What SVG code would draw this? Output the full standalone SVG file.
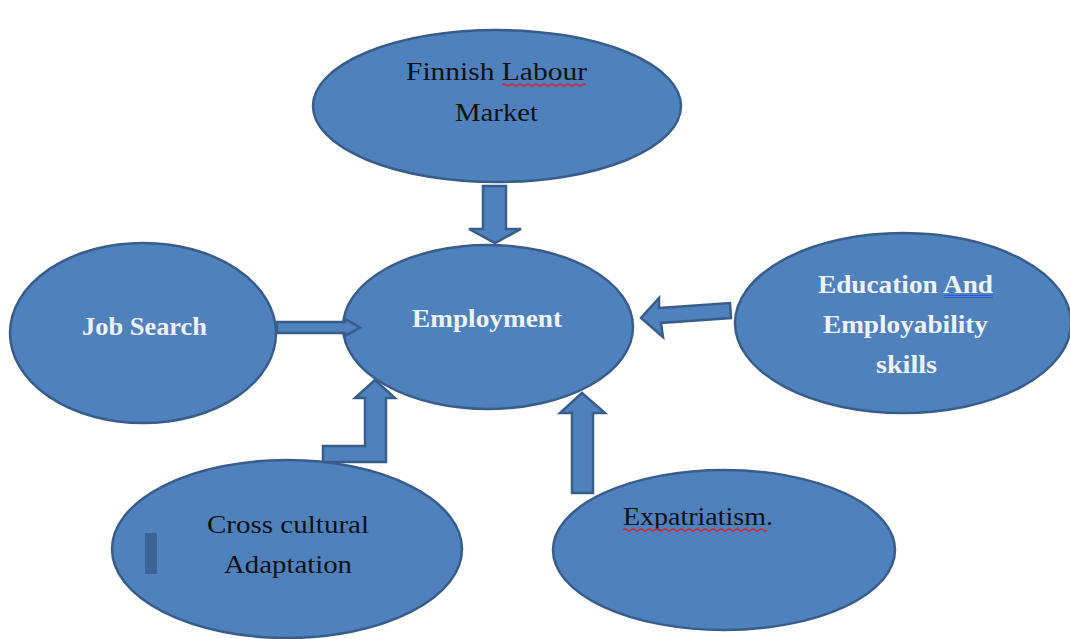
<svg xmlns="http://www.w3.org/2000/svg" width="1070" height="639" viewBox="0 0 1070 639">
<style>
.node{fill:#4f81bd;stroke:#385d8a;stroke-width:2.5}
.arr{fill:#4f81bd;stroke:#385d8a;stroke-width:2.5;stroke-linejoin:miter}
.tb{font-family:"Liberation Serif",serif;font-size:26px;fill:#111;text-anchor:middle}
.tw{font-family:"Liberation Serif",serif;font-size:26px;font-weight:bold;fill:#f2f2f2;text-anchor:middle}
.red{fill:none;stroke:#e02020;stroke-width:1.2}
.blue{fill:none;stroke:#2a5bd7;stroke-width:1.2}
</style>
<rect width="1070" height="639" fill="#fff"/>
<g id="finnish">
<ellipse class="node" cx="497" cy="106" rx="184" ry="76"/>
<text class="tb" x="496.5" y="80" textLength="181" lengthAdjust="spacingAndGlyphs">Finnish Labour</text>
<text class="tb" x="496.5" y="121" textLength="83" lengthAdjust="spacingAndGlyphs">Market</text>
<path class="red" d="M502,85 q2,-2 4,0 t4,0 t4,0 t4,0 t4,0 t4,0 t4,0 t4,0 t4,0 t4,0 t4,0 t4,0 t4,0 t4,0 t4,0 t4,0 t4,0 t4,0 t4,0 t4,0 t4,0"/>
</g>
<g id="employment">
<ellipse class="node" cx="488" cy="327" rx="145" ry="82"/>
<text class="tw" x="487" y="327" textLength="150" lengthAdjust="spacingAndGlyphs">Employment</text>
</g>
<g id="jobsearch">
<ellipse class="node" cx="143" cy="333" rx="133" ry="90"/>
<text class="tw" x="144.5" y="335" textLength="125" lengthAdjust="spacingAndGlyphs">Job Search</text>
</g>
<g id="education">
<ellipse class="node" cx="903" cy="323" rx="168" ry="90"/>
<text class="tw" x="905.5" y="293" textLength="175" lengthAdjust="spacingAndGlyphs">Education And</text>
<text class="tw" x="905.5" y="333" textLength="165" lengthAdjust="spacingAndGlyphs">Employability</text>
<text class="tw" x="906.5" y="373" textLength="61" lengthAdjust="spacingAndGlyphs">skills</text>
<path class="blue" d="M944,295.5 H993 M944,297.5 H993"/>
</g>
<g id="crosscultural">
<ellipse class="node" cx="287" cy="549" rx="175" ry="89"/>
<rect x="145" y="533" width="12" height="41" fill="#3b6494"/>
<text class="tb" x="288" y="533" textLength="162" lengthAdjust="spacingAndGlyphs">Cross cultural</text>
<text class="tb" x="288" y="573" textLength="128" lengthAdjust="spacingAndGlyphs">Adaptation</text>
</g>
<g id="expatriatism">
<ellipse class="node" cx="724" cy="550" rx="171" ry="80"/>
<text class="tb" x="698" y="525" textLength="150" lengthAdjust="spacingAndGlyphs">Expatriatism.</text>
<path class="red" d="M623,530 q2,-2 4,0 t4,0 t4,0 t4,0 t4,0 t4,0 t4,0 t4,0 t4,0 t4,0 t4,0 t4,0 t4,0 t4,0 t4,0 t4,0 t4,0 t4,0 t4,0 t4,0 t4,0 t4,0 t4,0 t4,0 t4,0 t4,0 t4,0 t4,0 t4,0 t4,0 t4,0 t4,0 t4,0 t4,0 t4,0 t4,0"/>
</g>
<g id="connectors">
<polygon class="arr" points="483,186 506,186 506,229 521,229 495,243 469,229 483,229"/>
<polygon class="arr" points="277,322 345,322 345,319 360,327.5 345,336 345,333 277,333"/>
<polygon class="arr" points="730,303 731,318 661,323 663,337 641,318 659,298 659,308"/>
<polygon class="arr" points="375,380 395,398 386,398 386,462 323,462 323,446 365,446 365,398 355,398"/>
<polygon class="arr" points="582,393 605,413 593,413 593,493 572,493 572,413 560,413"/>
</g>
</svg>
